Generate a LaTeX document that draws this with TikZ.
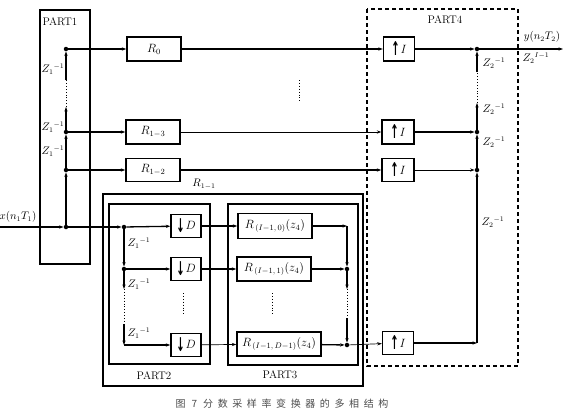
\documentclass[tikz,border=0pt]{standalone}
\usepackage{amsmath}
\usepackage{graphicx}
\usepackage{fontspec}
\newfontfamily\cjk{Noto Sans CJK SC}
\newfontfamily\dvb{DejaVu Sans Bold}
\usetikzlibrary{arrows.meta}
\newcommand\capsp{\hspace{4.6pt}}
\newcommand\upar{\raisebox{-2.5pt}{\scalebox{1}[1.9]{\dvb\fontsize{10}{12}\selectfont ↑}}\hspace{0.8pt}}
\newcommand\dnar{\raisebox{-3.5pt}{\scalebox{1}[1.9]{\dvb\fontsize{10}{12}\selectfont ↓}}\hspace{0.8pt}}
\begin{document}
\begin{tikzpicture}[x=1pt,y=-1pt,
  blk/.style={draw,line width=1.4pt,inner sep=0pt,minimum width=54pt,minimum height=24pt,font=\fontsize{12}{14}\selectfont},
  ubox/.style={blk,minimum width=31pt,minimum height=23pt},
  frame/.style={draw,line width=1.3pt},
  thk/.style={line width=1.3pt},
  thn/.style={line width=0.7pt},
  arr/.style={-{Stealth[length=4.5pt,width=3.2pt]}},
  dotv/.style={line width=0.9pt,dotted},
  jn/.style={circle,fill,inner sep=0pt,minimum size=4.5pt},
  zl/.style={font=\fontsize{10.5}{12}\selectfont,inner sep=0pt},
  pl/.style={font=\fontsize{11}{13}\selectfont,inner sep=0pt}
]
\useasboundingbox (0,0) rectangle (566,413);
% frames
\draw[frame] (40,10) rectangle (90,264);
\node[pl] (p1) at (60,22) {PART1};
\draw[line width=1.2pt,dash pattern=on 4pt off 3pt] (367,9) rectangle (518,366);
\node[pl] (p4) at (445,20) {PART4};
\draw[frame] (103,194) rectangle (363,386);
\draw[frame] (109,204) rectangle (210,364);
\draw[frame] (228,204) rectangle (358,365);
\node[pl] (p2) at (154,376) {PART2};
\node[pl] (p3) at (280,375) {PART3};

% PART1 junctions
\node[jn] (j0) at (66,49) {};
\node[jn] (j13) at (66,132) {};
\node[jn] (j12) at (66,170) {};
\node[jn] (jin) at (66,227) {};
\coordinate (d1a) at (66,107);
\coordinate (d1b) at (66,80);
\coordinate (xin) at (0,227);

% R boxes
\node[blk] (R0) at (154,49) {$R_0$};
\node[blk] (R13) at (153,132) {$R_{1-3}$};
\node[blk,minimum height=23pt] (R12) at (153,170) {$R_{1-2}$};

% Upsamplers
\node[ubox,minimum height=24pt] (U0) at (399,49) {\upar$I$};
\node[ubox,minimum width=32pt,minimum height=24pt] (U13) at (398,132) {\upar$I$};
\node[ubox,minimum width=32pt] (U12) at (398,170) {\upar$I$};
\node[ubox] (U3) at (398,343) {\upar$I$};

% right chain
\node[jn] (k0) at (477,49) {};
\node[jn] (k13) at (477,132) {};
\node[jn] (k12) at (477,170) {};
\coordinate (k3) at (477,343);
\coordinate (d4a) at (477,103);
\coordinate (d4b) at (477,72);
\coordinate (yout) at (563,49);

% PART2
\node[jn] (ja) at (124,227) {};
\node[jn] (jb) at (124,269) {};
\coordinate (jc) at (124,345);
\coordinate (d2a) at (124,289);
\coordinate (d2b) at (124,324);
\node[ubox,minimum width=30pt] (D1) at (186,226) {\dnar$D$};
\node[ubox,minimum width=30pt] (D2) at (186,269) {\dnar$D$};
\node[ubox,minimum width=30pt] (D3) at (186,345) {\dnar$D$};

% PART3
\node[blk,minimum width=74pt,minimum height=25pt] (Ra) at (275,226) {$R_{\,(I-1,\,0)}(z_4)$};
\node[blk,minimum width=74pt] (Rb) at (274,269) {$R_{\,(I-1,\,1)}(z_4)$};
\node[blk,minimum width=84pt] (Rc) at (279,344) {$R_{\,(I-1,\,D-1)}(z_4)$};
\coordinate (m0) at (347,226);
\node[jn] (mb) at (347,269) {};
\node[jn] (mc) at (347,345) {};
\coordinate (d3a) at (347,289);
\coordinate (d3b) at (347,318);

% PART1 connections
\draw[thk,arr] (xin) -- (jin);
\draw[thk,arr] (jin) -- (j12);
\draw[thk,arr] (j12) -- (j13);
\draw[thk,arr] (j13) -- (d1a);
\draw[dotv] (d1a) -- (d1b);
\draw[thk,arr] (d1b) -- (j0);
\draw[thk,arr] (j0) -- (R0);
\draw[thk,arr] (j13) -- (R13);
\draw[thk,arr] (j12) -- (R12);
\draw[thk,arr] (jin) -- (ja);

% R to U
\draw[thk,arr] (R0) -- (U0);
\draw[thn,arr] (R13) -- (U13);
\draw[thk,arr] (R12) -- (U12);

% U to right chain
\draw[thk,arr] (U0) -- (k0);
\draw[thk,arr] (U13) -- (k13);
\draw[thn,arr] (U12) -- (k12);
\draw[thk,arr] (U3) -- (k3);
\draw[thk,arr] (k3) -- (k12);
\draw[thk,arr] (k12) -- (k13);
\draw[thk,arr] (k13) -- (d4a);
\draw[dotv] (d4a) -- (d4b);
\draw[thk,arr] (d4b) -- (k0);
\draw[thk,arr] (k0) -- (yout);

% PART2 connections
\draw[thk,arr] (ja) -- (D1);
\draw[thk,arr] (ja) -- (jb);
\draw[thk,arr] (jb) -- (D2);
\draw[thk,arr] (jb) -- (d2a);
\draw[dotv] (d2a) -- (d2b);
\draw[thk,arr] (d2b) -- (jc);
\draw[thk,arr] (jc) -- (D3);

% D to R
\draw[thk,arr] (D1) -- (Ra);
\draw[thk,arr] (D2) -- (Rb);
\draw[thn,arr] (D3) -- (Rc);

% PART3 connections
\draw[thk,arr] (Ra) -- (m0);
\draw[thk,arr] (m0) -- (mb);
\draw[thk,arr] (Rb) -- (mb);
\draw[thk,arr] (mb) -- (d3a);
\draw[dotv] (d3a) -- (d3b);
\draw[thk,arr] (d3b) -- (mc);
\draw[thk,arr] (Rc) -- (mc);
\draw[thn,arr] (mc) -- (U3);

% dotted fillers
\coordinate (v1a) at (299,80); \coordinate (v1b) at (299,102);
\draw[dotv] (v1a) -- (v1b);
\coordinate (v2a) at (183,293); \coordinate (v2b) at (183,316);
\draw[dotv] (v2a) -- (v2b);
\coordinate (v3a) at (272,293); \coordinate (v3b) at (272,315);
\draw[dotv] (v3a) -- (v3b);

% labels
\node[zl] (z11) at (53,69) {$Z_1{}^{-1}$};
\node[zl] (z12) at (53,127) {$Z_1{}^{-1}$};
\node[zl] (z13) at (53,151) {$Z_1{}^{-1}$};
\node[zl] (z21) at (139,243) {$Z_1{}^{-1}$};
\node[zl] (z22) at (139,284) {$Z_1{}^{-1}$};
\node[zl] (z23) at (139,333) {$Z_1{}^{-1}$};
\node[zl] (z41) at (494,63) {$Z_2{}^{-1}$};
\node[zl] (z42) at (494,109) {$Z_2{}^{-1}$};
\node[zl] (z43) at (494,142) {$Z_2{}^{-1}$};
\node[zl] (z44) at (493,222) {$Z_2{}^{-1}$};
\node[zl] (zo) at (536,58) {$Z_2{}^{I-1}$};
\node[zl] (yl) at (542,37) {$y(n_2T_2)$};
\node[zl] (xl) at (18,217) {$x(n_1T_1)$};
\node[zl] (r11) at (204,184) {$R_{1-1}$};

% caption
\node[inner sep=0pt,text=black!70,font=\cjk\fontsize{10}{12}\selectfont] (cap) at (282,404)
  {图\hspace{6pt}7\hspace{6pt}分\capsp 数\capsp 采\capsp 样\capsp 率\capsp 变\capsp 换\capsp 器\capsp 的\capsp 多\capsp 相\capsp 结\capsp 构};
\end{tikzpicture}
\end{document}
